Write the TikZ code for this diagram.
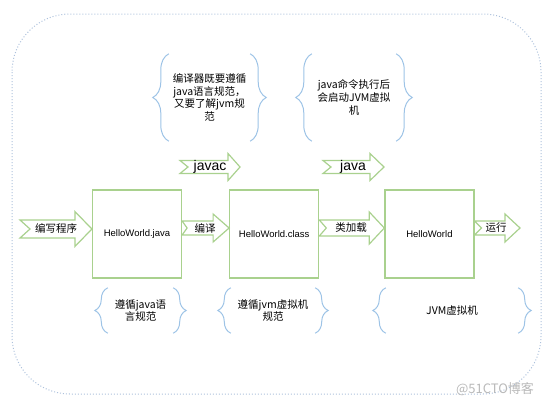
\documentclass[tikz,border=0pt]{standalone}
\usepackage{fontspec}
\setmainfont{Noto Sans CJK SC}
\newfontfamily\lat{Liberation Sans}
\usepackage{tikz}
\usetikzlibrary{positioning}
\usetikzlibrary{calc,decorations.pathreplacing}

\definecolor{boxgreen}{HTML}{A9D18E}
\definecolor{braceblue}{HTML}{9DC3E6}
\definecolor{framegray}{HTML}{ADC1DC}

\tikzset{
  box/.style={draw=boxgreen, line width=1.2pt, minimum width=89pt, minimum height=88pt,
    inner sep=0pt, font=\lat\fontsize{9.5}{11}\selectfont},
  fat/.style={draw=boxgreen, line width=1.2pt, line join=miter},
  lbl/.style={font=\fontsize{10.5}{12}\selectfont, inner sep=0pt},
  cmd/.style={font=\lat\fontsize{14}{16}\selectfont, inner sep=0pt},
  bnote/.style={font=\fontsize{10.5}{12.7}\selectfont, align=center, inner sep=0pt},
  curly/.style={draw=braceblue, line width=1pt, decorate, decoration={brace, amplitude=#1}},
  curly/.default=14pt
}

% start, end, body half, head half, head length, notch
\newcommand{\fatarrow}[6]{%
  \draw[fat] ($(#1)+(0,-#3)$) -- ($(#2)+(-#5,-#3)$) -- ($(#2)+(-#5,-#4)$) -- (#2)
    -- ($(#2)+(-#5,#4)$) -- ($(#2)+(-#5,#3)$) -- ($(#1)+(0,#3)$) -- ($(#1)+(#6,0)$) -- cycle;
}

\begin{document}
\begin{tikzpicture}[x=1pt,y=-1pt]
    \useasboundingbox (0,0) rectangle (554,407);
    \draw[framegray, dotted, line width=1pt, rounded corners=58pt] (12,14) rectangle (541,394);

    % the three stages
    \node[box] (java) at (137,234) {HelloWorld.java};
    \node[box, right=47pt of java] (class) {HelloWorld.class};
    \node[box, right=65pt of class] (hw) {HelloWorld};

    \coordinate (src) at (20,229);
    \coordinate[yshift=5pt] (javain) at (java.west);
    \coordinate[yshift=6pt] (javaout) at (java.east);
    \coordinate[yshift=6pt] (classin) at (class.west);
    \coordinate[yshift=6pt] (classout) at (class.east);
    \coordinate[yshift=6pt] (hwin) at (hw.west);
    \coordinate[yshift=6pt] (hwout) at (hw.east);
    \coordinate (run) at (520,228);
    \coordinate (jc1) at (180,167);
    \coordinate (jc2) at (240,167);
    \coordinate (jv1) at (323,167);
    \coordinate (jv2) at (384,167);

    \fatarrow{src}{javain}{9}{17.5}{17}{10}
    \fatarrow{javaout}{classin}{7}{14}{16}{5}
    \fatarrow{classout}{hwin}{8}{16}{15}{7}
    \fatarrow{hwout}{run}{7}{14}{15}{7}
    \fatarrow{jc1}{jc2}{6.5}{13.5}{12}{8}
    \fatarrow{jv1}{jv2}{6.5}{13.5}{14}{8}

    \node[lbl] (write) at (56,228) {编写程序};
    \node[lbl] (compile) at (205,228) {编译};
    \node[lbl] (load) at (351,228) {类加载};
    \node[lbl] (runlbl) at (496,228) {运行};
    \node[cmd] (javac) at (210,167) {javac};
    \node[cmd] (javacmd) at (353,167) {java};

    % notes in braces
    \node[bnote, minimum width=81pt, minimum height=87pt] (n1) at (209.5,97.5)
      {编译器既要遵循\\java语言规范，\\又要了解jvm规\\范};
    \node[bnote, minimum width=84pt, minimum height=87pt] (n2) at (354,97.5)
      {java命令执行后\\会启动JVM虚拟\\机};
    \node[bnote, minimum width=65pt, minimum height=45pt] (n3) at (140.5,310.5)
      {遵循java语\\言规范};
    \node[bnote, minimum width=84pt, minimum height=45pt] (n4) at (273,310.5)
      {遵循jvm虚拟机\\规范};
    \node[bnote, minimum width=132pt, minimum height=45pt] (n5) at (452,310.5)
      {JVM虚拟机};

    \foreach \n in {n1,n2}{
      \draw[curly=16pt] (\n.south west) -- (\n.north west);
      \draw[curly=16pt] (\n.north east) -- (\n.south east);
    }
    \foreach \n in {n3,n4,n5}{
      \draw[curly=13pt] (\n.south west) -- (\n.north west);
      \draw[curly=13pt] (\n.north east) -- (\n.south east);
    }

    \node[text=gray!55, font=\fontsize{13}{15}\selectfont] (mark) at (495,389) {@51CTO博客};
\end{tikzpicture}
\end{document}
